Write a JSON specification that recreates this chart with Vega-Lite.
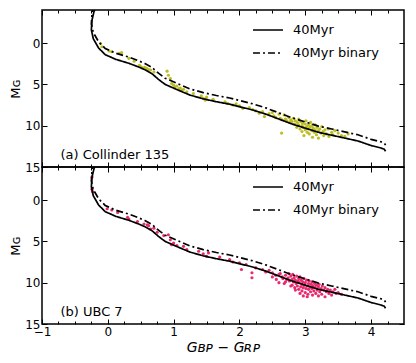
{
"$schema": "https://vega.github.io/schema/vega-lite/v6.json",
"background": "white",
"padding": {"left": 8, "top": 8, "right": 5, "bottom": 5},
"spacing": 0,
"bounds": "flush",
"config": {"font": "DejaVu Sans", "view": {"stroke": "black", "strokeWidth": 1.5},
  "axis": {"domain": false, "grid": false, "minExtent": 0, "tickColor": "black", "tickWidth": 1, "labelColor": "black", "labelFont": "DejaVu Sans", "labelFontSize": 12, "titleColor": "black", "titleFont": "DejaVu Sans", "titleFontWeight": "normal", "labelFlush": false, "labelOverlap": false}},
"datasets": {
"iso": [
{"i":1,"x":-0.12,"y":-5.5,"series":"40Myr"},{"i":2,"x":-0.17,"y":-4.5,"series":"40Myr"},{"i":3,"x":-0.21,"y":-3.8,"series":"40Myr"},{"i":4,"x":-0.24,"y":-2.8,"series":"40Myr"},{"i":5,"x":-0.25,"y":-1.6,"series":"40Myr"},{"i":6,"x":-0.22,"y":-0.5,"series":"40Myr"},{"i":7,"x":-0.19,"y":-0.1,"series":"40Myr"},{"i":8,"x":-0.14,"y":0.6,"series":"40Myr"},{"i":9,"x":-0.04,"y":1.4,"series":"40Myr"},{"i":10,"x":0.12,"y":1.97,"series":"40Myr"},{"i":11,"x":0.32,"y":2.45,"series":"40Myr"},{"i":12,"x":0.47,"y":2.9,"series":"40Myr"},{"i":13,"x":0.57,"y":3.25,"series":"40Myr"},{"i":14,"x":0.67,"y":3.7,"series":"40Myr"},{"i":15,"x":0.77,"y":4.4,"series":"40Myr"},{"i":16,"x":0.87,"y":5.0,"series":"40Myr"},{"i":17,"x":0.97,"y":5.35,"series":"40Myr"},{"i":18,"x":1.1,"y":5.8,"series":"40Myr"},{"i":19,"x":1.25,"y":6.3,"series":"40Myr"},{"i":20,"x":1.45,"y":6.75,"series":"40Myr"},{"i":21,"x":1.65,"y":7.1,"series":"40Myr"},{"i":22,"x":1.85,"y":7.4,"series":"40Myr"},{"i":23,"x":2.0,"y":7.7,"series":"40Myr"},{"i":24,"x":2.2,"y":8.1,"series":"40Myr"},{"i":25,"x":2.4,"y":8.6,"series":"40Myr"},{"i":26,"x":2.6,"y":9.2,"series":"40Myr"},{"i":27,"x":2.8,"y":9.8,"series":"40Myr"},{"i":28,"x":3.0,"y":10.3,"series":"40Myr"},{"i":29,"x":3.2,"y":10.8,"series":"40Myr"},{"i":30,"x":3.4,"y":11.15,"series":"40Myr"},{"i":31,"x":3.6,"y":11.5,"series":"40Myr"},{"i":32,"x":3.8,"y":11.85,"series":"40Myr"},{"i":33,"x":4.0,"y":12.4,"series":"40Myr"},{"i":34,"x":4.15,"y":12.7,"series":"40Myr"},{"i":35,"x":4.2,"y":12.85,"series":"40Myr"},{"i":36,"x":4.22,"y":13.1,"series":"40Myr"},
{"i":1,"x":-0.12,"y":-6.25,"series":"40Myr binary"},{"i":2,"x":-0.17,"y":-5.25,"series":"40Myr binary"},{"i":3,"x":-0.21,"y":-4.55,"series":"40Myr binary"},{"i":4,"x":-0.24,"y":-3.55,"series":"40Myr binary"},{"i":5,"x":-0.25,"y":-2.35,"series":"40Myr binary"},{"i":6,"x":-0.22,"y":-1.25,"series":"40Myr binary"},{"i":7,"x":-0.19,"y":-0.85,"series":"40Myr binary"},{"i":8,"x":-0.14,"y":-0.15,"series":"40Myr binary"},{"i":9,"x":-0.04,"y":0.65,"series":"40Myr binary"},{"i":10,"x":0.12,"y":1.22,"series":"40Myr binary"},{"i":11,"x":0.32,"y":1.7,"series":"40Myr binary"},{"i":12,"x":0.47,"y":2.15,"series":"40Myr binary"},{"i":13,"x":0.57,"y":2.5,"series":"40Myr binary"},{"i":14,"x":0.67,"y":2.95,"series":"40Myr binary"},{"i":15,"x":0.77,"y":3.65,"series":"40Myr binary"},{"i":16,"x":0.87,"y":4.25,"series":"40Myr binary"},{"i":17,"x":0.97,"y":4.6,"series":"40Myr binary"},{"i":18,"x":1.1,"y":5.05,"series":"40Myr binary"},{"i":19,"x":1.25,"y":5.55,"series":"40Myr binary"},{"i":20,"x":1.45,"y":6.0,"series":"40Myr binary"},{"i":21,"x":1.65,"y":6.35,"series":"40Myr binary"},{"i":22,"x":1.85,"y":6.65,"series":"40Myr binary"},{"i":23,"x":2.0,"y":6.95,"series":"40Myr binary"},{"i":24,"x":2.2,"y":7.35,"series":"40Myr binary"},{"i":25,"x":2.4,"y":7.85,"series":"40Myr binary"},{"i":26,"x":2.6,"y":8.45,"series":"40Myr binary"},{"i":27,"x":2.8,"y":9.05,"series":"40Myr binary"},{"i":28,"x":3.0,"y":9.55,"series":"40Myr binary"},{"i":29,"x":3.2,"y":10.05,"series":"40Myr binary"},{"i":30,"x":3.4,"y":10.4,"series":"40Myr binary"},{"i":31,"x":3.6,"y":10.75,"series":"40Myr binary"},{"i":32,"x":3.8,"y":11.1,"series":"40Myr binary"},{"i":33,"x":4.0,"y":11.65,"series":"40Myr binary"},{"i":34,"x":4.15,"y":11.95,"series":"40Myr binary"},{"i":35,"x":4.2,"y":12.1,"series":"40Myr binary"},{"i":36,"x":4.22,"y":12.35,"series":"40Myr binary"}
],
"c135": [
{"x":-0.11,"y":0.05},{"x":-0.09,"y":0.45},{"x":0.02,"y":0.95},{"x":0.06,"y":1.05},{"x":0.17,"y":1.25},{"x":0.21,"y":1.15},{"x":0.32,"y":1.85},{"x":0.4,"y":2.2},{"x":0.48,"y":2.7},{"x":0.5,"y":2.85},{"x":0.53,"y":3.0},{"x":0.56,"y":2.95},{"x":0.59,"y":3.06},{"x":0.62,"y":3.2},{"x":0.65,"y":3.26},{"x":0.7,"y":3.5},{"x":0.9,"y":3.4},{"x":0.92,"y":3.9},{"x":0.95,"y":4.3},{"x":0.97,"y":4.9},{"x":1.0,"y":5.1},{"x":1.02,"y":5.3},{"x":1.05,"y":5.2},{"x":1.08,"y":5.5},{"x":1.1,"y":5.45},{"x":1.12,"y":5.7},{"x":1.15,"y":5.6},{"x":1.2,"y":5.9},{"x":1.3,"y":6.1},{"x":1.42,"y":6.4},{"x":1.45,"y":6.7},{"x":1.5,"y":6.55},{"x":1.48,"y":6.9},{"x":1.6,"y":6.8},{"x":1.78,"y":7.1},{"x":1.82,"y":7.3},{"x":1.9,"y":7.5},{"x":1.95,"y":7.35},{"x":2.0,"y":7.6},{"x":2.05,"y":7.9},{"x":2.15,"y":7.8},{"x":2.2,"y":8.05},{"x":2.25,"y":8.2},{"x":2.3,"y":8.5},{"x":2.35,"y":8.3},{"x":2.38,"y":8.9},{"x":2.45,"y":8.55},{"x":2.5,"y":8.4},{"x":2.52,"y":8.8},{"x":2.55,"y":9.0},{"x":2.6,"y":8.6},{"x":2.62,"y":9.1},{"x":2.64,"y":10.9},{"x":2.65,"y":9.3},{"x":2.68,"y":8.7},{"x":2.7,"y":9.2},{"x":2.72,"y":9.4},{"x":2.75,"y":9.0},{"x":2.76,"y":9.6},{"x":2.78,"y":9.3},{"x":2.8,"y":9.5},{"x":2.82,"y":9.1},{"x":2.84,"y":9.8},{"x":2.85,"y":9.4},{"x":2.87,"y":10.2},{"x":2.88,"y":9.6},{"x":2.9,"y":9.2},{"x":2.9,"y":9.9},{"x":2.92,"y":10.4},{"x":2.93,"y":9.5},{"x":2.95,"y":10.0},{"x":2.95,"y":10.7},{"x":2.96,"y":9.7},{"x":2.97,"y":10.2},{"x":2.98,"y":11.2},{"x":3.0,"y":9.8},{"x":3.0,"y":10.5},{"x":3.01,"y":9.4},{"x":3.02,"y":10.1},{"x":3.03,"y":10.8},{"x":3.05,"y":9.9},{"x":3.05,"y":10.4},{"x":3.06,"y":11.0},{"x":3.07,"y":10.2},{"x":3.08,"y":9.6},{"x":3.1,"y":10.6},{"x":3.1,"y":10.0},{"x":3.11,"y":11.4},{"x":3.12,"y":10.3},{"x":3.14,"y":10.8},{"x":3.15,"y":9.9},{"x":3.15,"y":10.5},{"x":3.17,"y":11.1},{"x":3.18,"y":10.2},{"x":3.2,"y":10.6},{"x":3.2,"y":11.5},{"x":3.22,"y":10.4},{"x":3.24,"y":10.9},{"x":3.25,"y":10.1},{"x":3.27,"y":10.7},{"x":3.28,"y":11.2},{"x":3.3,"y":10.5},{"x":3.32,"y":11.0},{"x":3.35,"y":10.4},{"x":3.36,"y":11.3},{"x":3.4,"y":10.8},{"x":3.42,"y":11.1},{"x":3.45,"y":10.6},{"x":3.5,"y":10.9},{"x":3.55,"y":11.2},{"x":3.6,"y":11.3},{"x":3.65,"y":11.0}
],
"ubc7": [
{"x":-0.24,"y":-2.8},{"x":-0.24,"y":-1.3},{"x":-0.23,"y":-1.0},{"x":-0.01,"y":1.05},{"x":0.06,"y":1.2},{"x":0.15,"y":1.5},{"x":0.3,"y":2.1},{"x":0.32,"y":2.3},{"x":0.45,"y":2.6},{"x":0.55,"y":2.9},{"x":0.6,"y":3.0},{"x":0.62,"y":3.1},{"x":0.65,"y":3.5},{"x":0.7,"y":3.4},{"x":0.75,"y":3.9},{"x":0.85,"y":4.3},{"x":0.92,"y":4.2},{"x":0.95,"y":4.8},{"x":0.97,"y":5.4},{"x":1.0,"y":5.2},{"x":1.05,"y":5.5},{"x":1.15,"y":5.6},{"x":1.2,"y":6.0},{"x":1.38,"y":6.2},{"x":1.45,"y":6.5},{"x":1.5,"y":6.8},{"x":1.53,"y":6.4},{"x":1.7,"y":6.9},{"x":1.85,"y":7.2},{"x":1.9,"y":7.5},{"x":2.0,"y":7.6},{"x":2.03,"y":8.4},{"x":2.1,"y":7.8},{"x":2.19,"y":8.8},{"x":2.19,"y":9.4},{"x":2.25,"y":8.2},{"x":2.35,"y":8.4},{"x":2.4,"y":8.7},{"x":2.45,"y":8.5},{"x":2.5,"y":8.8},{"x":2.55,"y":9.1},{"x":2.6,"y":10.0},{"x":2.62,"y":8.9},{"x":2.65,"y":9.3},{"x":2.68,"y":10.1},{"x":2.7,"y":9.1},{"x":2.72,"y":9.6},{"x":2.74,"y":9.4},{"x":2.75,"y":8.9},{"x":2.76,"y":9.8},{"x":2.78,"y":9.2},{"x":2.8,"y":9.6},{"x":2.8,"y":10.3},{"x":2.81,"y":9.0},{"x":2.82,"y":9.9},{"x":2.83,"y":9.4},{"x":2.84,"y":10.6},{"x":2.85,"y":9.7},{"x":2.86,"y":10.1},{"x":2.87,"y":9.2},{"x":2.88,"y":10.4},{"x":2.89,"y":9.8},{"x":2.9,"y":9.5},{"x":2.9,"y":10.8},{"x":2.91,"y":10.0},{"x":2.92,"y":9.3},{"x":2.93,"y":10.5},{"x":2.94,"y":9.7},{"x":2.95,"y":10.2},{"x":2.95,"y":11.0},{"x":2.96,"y":9.9},{"x":2.97,"y":10.6},{"x":2.98,"y":9.5},{"x":2.99,"y":10.3},{"x":3.0,"y":10.0},{"x":3.0,"y":11.2},{"x":3.01,"y":10.7},{"x":3.02,"y":9.7},{"x":3.03,"y":10.4},{"x":3.04,"y":11.4},{"x":3.05,"y":10.1},{"x":3.05,"y":10.8},{"x":3.06,"y":9.8},{"x":3.07,"y":10.5},{"x":3.08,"y":11.1},{"x":3.09,"y":10.2},{"x":3.1,"y":9.9},{"x":3.1,"y":10.7},{"x":3.11,"y":11.5},{"x":3.12,"y":10.4},{"x":3.13,"y":11.0},{"x":3.14,"y":10.1},{"x":3.15,"y":10.6},{"x":3.16,"y":11.3},{"x":3.17,"y":10.3},{"x":3.18,"y":10.9},{"x":3.2,"y":10.5},{"x":3.2,"y":11.6},{"x":3.21,"y":10.2},{"x":3.22,"y":11.1},{"x":3.24,"y":10.7},{"x":3.25,"y":11.4},{"x":3.26,"y":10.4},{"x":3.28,"y":10.9},{"x":3.3,"y":10.6},{"x":3.3,"y":11.7},{"x":3.32,"y":11.1},{"x":3.34,"y":10.8},{"x":3.36,"y":11.3},{"x":3.38,"y":10.9},{"x":3.4,"y":11.5},{"x":3.42,"y":11.1},{"x":3.45,"y":10.8},{"x":3.47,"y":11.3},{"x":3.5,"y":11.2},{"x":3.55,"y":11.4},{"x":2.7,"y":9.9},{"x":2.78,"y":10.4},{"x":2.85,"y":10.9},{"x":2.92,"y":11.3},{"x":2.97,"y":11.6},{"x":3.03,"y":11.7},{"x":2.6,"y":9.0},{"x":2.66,"y":9.5},{"x":2.5,"y":9.3},{"x":2.56,"y":9.6}
]
},
"resolve": {"scale": {"strokeDash": "independent"}, "legend": {"strokeDash": "independent"}},
"vconcat": [
{
"width": 362, "height": 157,
"resolve": {"axis": {"x": "independent", "y": "independent"}},
"layer": [
{"data": {"name": "c135"}, "mark": {"type": "circle", "size": 10, "color": "#bcbd22", "opacity": 1},
 "encoding": {
  "x": {"field": "x", "type": "quantitative", "scale": {"domain": [-1, 4.5], "nice": false, "zero": false}, "axis": {"orient": "bottom", "values": [-1,0,1,2,3,4], "labels": false, "tickSize": -5, "title": null}},
  "y": {"field": "y", "type": "quantitative", "scale": {"domain": [-4, 15], "reverse": true, "nice": false, "zero": false}, "axis": {"orient": "left", "values": [0,5,10,15], "tickSize": -5, "labelPadding": 7, "title": "Mɢ", "titleFontSize": 13, "titlePadding": 2}}
 }},
{"data": {"name": "iso"}, "mark": {"type": "line", "color": "black", "strokeWidth": 1.7, "clip": true},
 "encoding": {
  "x": {"field": "x", "type": "quantitative", "scale": {"domain": [-1, 4.5], "nice": false, "zero": false}, "axis": {"orient": "top", "values": [-1,0,1,2,3,4], "labels": false, "tickSize": -5, "title": null}},
  "y": {"field": "y", "type": "quantitative", "scale": {"domain": [-4, 15], "reverse": true, "nice": false, "zero": false}, "axis": {"orient": "right", "values": [0,5,10,15], "labels": false, "tickSize": -5, "title": null}},
  "order": {"field": "i", "type": "quantitative"},
  "strokeDash": {"field": "series", "type": "nominal", "scale": {"domain": ["40Myr", "40Myr binary"], "range": [[1,0],[7,3,2,3]]},
    "legend": {"orient": "none", "legendX": 210, "legendY": 4, "title": null, "symbolType": "stroke", "symbolStrokeColor": "black", "symbolStrokeWidth": 1.7, "symbolSize": 900, "labelFontSize": 13, "labelFont": "DejaVu Sans", "labelColor": "black", "labelOffset": 9, "rowPadding": -1}}
 }},
{"data": {"name": "c135"}, "mark": {"type": "point", "opacity": 0, "clip": true},
 "encoding": {
  "x": {"field": "x", "type": "quantitative", "scale": {"domain": [-1, 4.5], "nice": false, "zero": false}, "axis": {"orient": "bottom", "values": [-0.75,-0.5,-0.25,0.25,0.5,0.75,1.25,1.5,1.75,2.25,2.5,2.75,3.25,3.5,3.75,4.25], "labels": false, "tickSize": -3, "title": null}},
  "y": {"field": "y", "type": "quantitative", "scale": {"domain": [-4, 15], "reverse": true, "nice": false, "zero": false}, "axis": null}
 }},
{"data": {"name": "c135"}, "mark": {"type": "point", "opacity": 0, "clip": true},
 "encoding": {
  "x": {"field": "x", "type": "quantitative", "scale": {"domain": [-1, 4.5], "nice": false, "zero": false}, "axis": {"orient": "top", "values": [-0.75,-0.5,-0.25,0.25,0.5,0.75,1.25,1.5,1.75,2.25,2.5,2.75,3.25,3.5,3.75,4.25], "labels": false, "tickSize": -3, "title": null}},
  "y": {"field": "y", "type": "quantitative", "scale": {"domain": [-4, 15], "reverse": true, "nice": false, "zero": false}, "axis": null}
 }},
{"data": {"values": [{}]}, "mark": {"type": "text", "align": "left", "baseline": "middle", "fontSize": 13, "font": "DejaVu Sans", "color": "black"},
 "encoding": {
  "x": {"datum": -0.72, "type": "quantitative", "scale": {"domain": [-1, 4.5], "nice": false, "zero": false}, "axis": null},
  "y": {"datum": 13.5, "type": "quantitative", "scale": {"domain": [-4, 15], "reverse": true, "nice": false, "zero": false}, "axis": null},
  "text": {"value": "(a) Collinder 135"}
 }}
]
},
{
"width": 362, "height": 157,
"resolve": {"axis": {"x": "independent", "y": "independent"}},
"layer": [
{"data": {"name": "ubc7"}, "mark": {"type": "circle", "size": 10, "color": "#ea2a6e", "opacity": 1},
 "encoding": {
  "x": {"field": "x", "type": "quantitative", "scale": {"domain": [-1, 4.5], "nice": false, "zero": false}, "axis": {"orient": "bottom", "values": [-1,0,1,2,3,4], "tickSize": -5, "labelPadding": 7, "title": "Gʙᴘ − Gʀᴘ", "titleFontSize": 14, "titleFontStyle": "italic", "titlePadding": 3}},
  "y": {"field": "y", "type": "quantitative", "scale": {"domain": [-4, 15], "reverse": true, "nice": false, "zero": false}, "axis": {"orient": "left", "values": [0,5,10,15], "tickSize": -5, "labelPadding": 7, "title": "Mɢ", "titleFontSize": 13, "titlePadding": 2}}
 }},
{"data": {"name": "iso"}, "mark": {"type": "line", "color": "black", "strokeWidth": 1.7, "clip": true},
 "encoding": {
  "x": {"field": "x", "type": "quantitative", "scale": {"domain": [-1, 4.5], "nice": false, "zero": false}, "axis": {"orient": "top", "values": [-1,0,1,2,3,4], "labels": false, "tickSize": -5, "title": null}},
  "y": {"field": "y", "type": "quantitative", "scale": {"domain": [-4, 15], "reverse": true, "nice": false, "zero": false}, "axis": {"orient": "right", "values": [0,5,10,15], "labels": false, "tickSize": -5, "title": null}},
  "order": {"field": "i", "type": "quantitative"},
  "strokeDash": {"field": "series", "type": "nominal", "scale": {"domain": ["40Myr", "40Myr binary"], "range": [[1,0],[7,3,2,3]]},
    "legend": {"orient": "none", "legendX": 210, "legendY": 4, "title": null, "symbolType": "stroke", "symbolStrokeColor": "black", "symbolStrokeWidth": 1.7, "symbolSize": 900, "labelFontSize": 13, "labelFont": "DejaVu Sans", "labelColor": "black", "labelOffset": 9, "rowPadding": -1}}
 }},
{"data": {"name": "ubc7"}, "mark": {"type": "point", "opacity": 0, "clip": true},
 "encoding": {
  "x": {"field": "x", "type": "quantitative", "scale": {"domain": [-1, 4.5], "nice": false, "zero": false}, "axis": {"orient": "bottom", "values": [-0.75,-0.5,-0.25,0.25,0.5,0.75,1.25,1.5,1.75,2.25,2.5,2.75,3.25,3.5,3.75,4.25], "labels": false, "tickSize": -3, "title": null}},
  "y": {"field": "y", "type": "quantitative", "scale": {"domain": [-4, 15], "reverse": true, "nice": false, "zero": false}, "axis": null}
 }},
{"data": {"name": "ubc7"}, "mark": {"type": "point", "opacity": 0, "clip": true},
 "encoding": {
  "x": {"field": "x", "type": "quantitative", "scale": {"domain": [-1, 4.5], "nice": false, "zero": false}, "axis": {"orient": "top", "values": [-0.75,-0.5,-0.25,0.25,0.5,0.75,1.25,1.5,1.75,2.25,2.5,2.75,3.25,3.5,3.75,4.25], "labels": false, "tickSize": -3, "title": null}},
  "y": {"field": "y", "type": "quantitative", "scale": {"domain": [-4, 15], "reverse": true, "nice": false, "zero": false}, "axis": null}
 }},
{"data": {"values": [{}]}, "mark": {"type": "text", "align": "left", "baseline": "middle", "fontSize": 13, "font": "DejaVu Sans", "color": "black"},
 "encoding": {
  "x": {"datum": -0.72, "type": "quantitative", "scale": {"domain": [-1, 4.5], "nice": false, "zero": false}, "axis": null},
  "y": {"datum": 13.5, "type": "quantitative", "scale": {"domain": [-4, 15], "reverse": true, "nice": false, "zero": false}, "axis": null},
  "text": {"value": "(b) UBC 7"}
 }}
]
}
]
}
